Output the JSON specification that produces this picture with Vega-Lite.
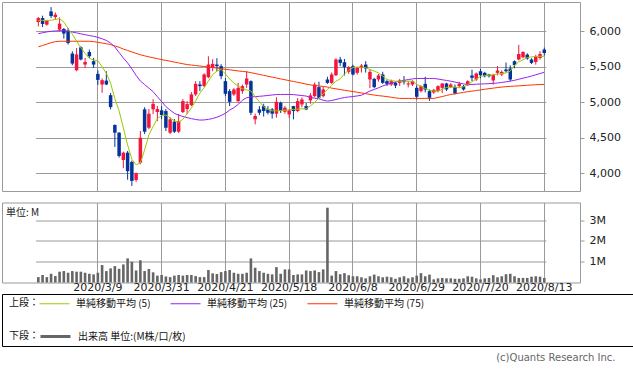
{
"$schema": "https://vega.github.io/schema/vega-lite/v6.json",
"padding": {"left": 1, "top": 1, "right": 1, "bottom": 1},
"background": "white",
"bounds": "flush",
"spacing": 11.5,
"title": {"text": "(c)Quants Research Inc.", "orient": "bottom", "anchor": "end", "frame": "bounds", "offset": 6, "baseline": "top", "dx": -18, "fontSize": 10, "fontWeight": "normal", "font": "DejaVu Sans", "color": "#666"},
"config": {
  "font": "DejaVu Sans",
  "axis": {"labelFont": "DejaVu Sans", "labelFontSize": 11, "labelColor": "#222", "gridColor": "#9a9a9a", "gridWidth": 1, "tickColor": "#9a9a9a"},
  "view": {"stroke": "#9a9a9a"},
  "legend": {"labelFont": "Noto Sans CJK JP", "labelFontSize": 10, "titleFont": "Noto Sans CJK JP", "titleFontSize": 10, "titleFontWeight": "normal", "labelColor": "#111", "titleColor": "#111", "padding": 0}
},
"datasets": {"p": [
{"d":"2020/2/17","o":6131,"h":6201,"l":6070,"c":6187,"v":0.26,"m5":6154,"m25":5967,"m75":5782},
{"d":"2020/2/18","o":6187,"h":6220,"l":6060,"c":6103,"v":0.36,"m5":6154,"m25":5980,"m75":5800},
{"d":"2020/2/19","o":6094,"h":6160,"l":6080,"c":6150,"v":0.26,"m5":6154,"m25":5992,"m75":5820},
{"d":"2020/2/20","o":6281,"h":6341,"l":6187,"c":6215,"v":0.42,"m5":6156,"m25":6000,"m75":5840},
{"d":"2020/2/21","o":6201,"h":6267,"l":6164,"c":6235,"v":0.31,"m5":6166,"m25":6005,"m75":5855},
{"d":"2020/2/25","o":6024,"h":6197,"l":6000,"c":6108,"v":0.52,"m5":6178,"m25":6008,"m75":5860},
{"d":"2020/2/26","o":6033,"h":6047,"l":5897,"c":5968,"v":0.55,"m5":6130,"m25":6010,"m75":5860},
{"d":"2020/2/27","o":6010,"h":6047,"l":5813,"c":5836,"v":0.47,"m5":6040,"m25":6000,"m75":5860},
{"d":"2020/2/28","o":5687,"h":5719,"l":5522,"c":5546,"v":0.55,"m5":5960,"m25":5990,"m75":5860},
{"d":"2020/3/2","o":5452,"h":5765,"l":5438,"c":5675,"v":0.52,"m5":5860,"m25":5978,"m75":5860},
{"d":"2020/3/3","o":5775,"h":5790,"l":5590,"c":5603,"v":0.52,"m5":5766,"m25":5965,"m75":5860},
{"d":"2020/3/4","o":5532,"h":5625,"l":5485,"c":5569,"v":0.47,"m5":5690,"m25":5952,"m75":5860},
{"d":"2020/3/5","o":5709,"h":5743,"l":5625,"c":5649,"v":0.42,"m5":5620,"m25":5940,"m75":5860},
{"d":"2020/3/6","o":5579,"h":5625,"l":5485,"c":5532,"v":0.39,"m5":5595,"m25":5930,"m75":5855},
{"d":"2020/3/9","o":5400,"h":5450,"l":5246,"c":5316,"v":0.47,"m5":5588,"m25":5915,"m75":5845},
{"d":"2020/3/10","o":5251,"h":5335,"l":5133,"c":5312,"v":0.84,"m5":5500,"m25":5895,"m75":5835},
{"d":"2020/3/11","o":5306,"h":5438,"l":5241,"c":5251,"v":0.55,"m5":5410,"m25":5872,"m75":5825},
{"d":"2020/3/12","o":5101,"h":5133,"l":4900,"c":4933,"v":0.68,"m5":5270,"m25":5835,"m75":5813},
{"d":"2020/3/13","o":4680,"h":4690,"l":4371,"c":4572,"v":0.79,"m5":5050,"m25":5780,"m75":5795},
{"d":"2020/3/16","o":4572,"h":4580,"l":4221,"c":4244,"v":0.66,"m5":4880,"m25":5700,"m75":5775},
{"d":"2020/3/17","o":4188,"h":4305,"l":4072,"c":4291,"v":0.87,"m5":4640,"m25":5625,"m75":5750},
{"d":"2020/3/18","o":4291,"h":4315,"l":3910,"c":4030,"v":1.16,"m5":4400,"m25":5555,"m75":5730},
{"d":"2020/3/19","o":4160,"h":4180,"l":3823,"c":3893,"v":1.0,"m5":4200,"m25":5470,"m75":5710},
{"d":"2020/3/23","o":3907,"h":4011,"l":3879,"c":4001,"v":0.58,"m5":4119,"m25":5380,"m75":5690},
{"d":"2020/3/24","o":4150,"h":4596,"l":4127,"c":4501,"v":1.07,"m5":4145,"m25":5300,"m75":5670},
{"d":"2020/3/25","o":4901,"h":4930,"l":4554,"c":4586,"v":0.55,"m5":4330,"m25":5250,"m75":5655},
{"d":"2020/3/26","o":4642,"h":4905,"l":4620,"c":4839,"v":0.65,"m5":4540,"m25":5200,"m75":5640},
{"d":"2020/3/27","o":4901,"h":5045,"l":4835,"c":4979,"v":0.49,"m5":4660,"m25":5150,"m75":5628},
{"d":"2020/3/30","o":4863,"h":4947,"l":4736,"c":4905,"v":0.33,"m5":4770,"m25":5080,"m75":5615},
{"d":"2020/3/31","o":4887,"h":4947,"l":4764,"c":4821,"v":0.36,"m5":4815,"m25":5010,"m75":5602},
{"d":"2020/4/1","o":4877,"h":4905,"l":4596,"c":4642,"v":0.29,"m5":4821,"m25":4940,"m75":5590},
{"d":"2020/4/2","o":4572,"h":4792,"l":4554,"c":4760,"v":0.26,"m5":4780,"m25":4890,"m75":5579},
{"d":"2020/4/3","o":4727,"h":4764,"l":4568,"c":4586,"v":0.33,"m5":4740,"m25":4845,"m75":5567},
{"d":"2020/4/6","o":4586,"h":4835,"l":4568,"c":4736,"v":0.36,"m5":4720,"m25":4820,"m75":5555},
{"d":"2020/4/7","o":4863,"h":5045,"l":4849,"c":5017,"v":0.33,"m5":4760,"m25":4800,"m75":5543},
{"d":"2020/4/8","o":4905,"h":5017,"l":4835,"c":4975,"v":0.36,"m5":4840,"m25":4785,"m75":5532},
{"d":"2020/4/9","o":4961,"h":5144,"l":4947,"c":5111,"v":0.36,"m5":4920,"m25":4770,"m75":5525},
{"d":"2020/4/10","o":5111,"h":5298,"l":5087,"c":5260,"v":0.31,"m5":5020,"m25":4758,"m75":5518},
{"d":"2020/4/13","o":5251,"h":5298,"l":5158,"c":5228,"v":0.26,"m5":5130,"m25":4750,"m75":5511},
{"d":"2020/4/14","o":5228,"h":5410,"l":5214,"c":5392,"v":0.26,"m5":5204,"m25":4752,"m75":5505},
{"d":"2020/4/15","o":5354,"h":5649,"l":5340,"c":5532,"v":0.6,"m5":5300,"m25":4760,"m75":5498},
{"d":"2020/4/16","o":5485,"h":5607,"l":5438,"c":5541,"v":0.44,"m5":5390,"m25":4772,"m75":5490},
{"d":"2020/4/17","o":5532,"h":5621,"l":5438,"c":5509,"v":0.41,"m5":5440,"m25":4790,"m75":5482},
{"d":"2020/4/20","o":5509,"h":5537,"l":5326,"c":5368,"v":0.5,"m5":5462,"m25":4815,"m75":5474},
{"d":"2020/4/21","o":5298,"h":5340,"l":5087,"c":5120,"v":0.55,"m5":5400,"m25":4845,"m75":5466},
{"d":"2020/4/22","o":5158,"h":5186,"l":4947,"c":5007,"v":0.6,"m5":5330,"m25":4890,"m75":5458},
{"d":"2020/4/23","o":5111,"h":5200,"l":5090,"c":5181,"v":0.47,"m5":5270,"m25":4925,"m75":5450},
{"d":"2020/4/24","o":5017,"h":5275,"l":5000,"c":5204,"v":0.42,"m5":5230,"m25":4970,"m75":5442},
{"d":"2020/4/27","o":5158,"h":5251,"l":5120,"c":5228,"v":0.42,"m5":5190,"m25":5030,"m75":5435},
{"d":"2020/4/28","o":5251,"h":5439,"l":5204,"c":5336,"v":0.47,"m5":5175,"m25":5065,"m75":5429},
{"d":"2020/4/30","o":5298,"h":5310,"l":4820,"c":4853,"v":1.16,"m5":5160,"m25":5075,"m75":5418},
{"d":"2020/5/1","o":4760,"h":4840,"l":4690,"c":4807,"v":0.71,"m5":5080,"m25":5080,"m75":5405},
{"d":"2020/5/7","o":4900,"h":4947,"l":4820,"c":4853,"v":0.55,"m5":5010,"m25":5085,"m75":5393},
{"d":"2020/5/8","o":4947,"h":4980,"l":4800,"c":4877,"v":0.47,"m5":4940,"m25":5090,"m75":5380},
{"d":"2020/5/11","o":4900,"h":4947,"l":4830,"c":4853,"v":0.42,"m5":4900,"m25":5097,"m75":5368},
{"d":"2020/5/12","o":4900,"h":4920,"l":4770,"c":4840,"v":0.39,"m5":4880,"m25":5103,"m75":5355},
{"d":"2020/5/13","o":4840,"h":5070,"l":4783,"c":5007,"v":0.74,"m5":4880,"m25":5110,"m75":5342},
{"d":"2020/5/14","o":4994,"h":5010,"l":4850,"c":4877,"v":0.42,"m5":4885,"m25":5111,"m75":5330},
{"d":"2020/5/15","o":4867,"h":4947,"l":4840,"c":4924,"v":0.63,"m5":4890,"m25":5111,"m75":5318},
{"d":"2020/5/18","o":4830,"h":4900,"l":4780,"c":4887,"v":0.63,"m5":4895,"m25":5111,"m75":5306},
{"d":"2020/5/19","o":4947,"h":4950,"l":4760,"c":4877,"v":0.36,"m5":4900,"m25":5108,"m75":5294},
{"d":"2020/5/20","o":4877,"h":5060,"l":4860,"c":5017,"v":0.39,"m5":4905,"m25":5102,"m75":5282},
{"d":"2020/5/21","o":4970,"h":5070,"l":4930,"c":5040,"v":0.39,"m5":4908,"m25":5095,"m75":5270},
{"d":"2020/5/22","o":4947,"h":4990,"l":4890,"c":4900,"v":0.58,"m5":4910,"m25":5088,"m75":5256},
{"d":"2020/5/25","o":5027,"h":5130,"l":4980,"c":5097,"v":0.55,"m5":4950,"m25":5070,"m75":5245},
{"d":"2020/5/26","o":5087,"h":5280,"l":5070,"c":5251,"v":0.58,"m5":5000,"m25":5058,"m75":5237},
{"d":"2020/5/27","o":5214,"h":5290,"l":5050,"c":5064,"v":0.5,"m5":5060,"m25":5050,"m75":5230},
{"d":"2020/5/28","o":5087,"h":5220,"l":5070,"c":5181,"v":0.63,"m5":5120,"m25":5030,"m75":5224},
{"d":"2020/5/29","o":5321,"h":5360,"l":5260,"c":5274,"v":3.6,"m5":5181,"m25":5017,"m75":5215},
{"d":"2020/6/1","o":5274,"h":5420,"l":5260,"c":5392,"v":0.33,"m5":5240,"m25":5025,"m75":5200},
{"d":"2020/6/2","o":5382,"h":5620,"l":5370,"c":5603,"v":0.55,"m5":5298,"m25":5040,"m75":5190},
{"d":"2020/6/3","o":5603,"h":5640,"l":5509,"c":5555,"v":0.4,"m5":5330,"m25":5055,"m75":5180},
{"d":"2020/6/4","o":5565,"h":5611,"l":5377,"c":5495,"v":0.45,"m5":5400,"m25":5068,"m75":5170},
{"d":"2020/6/5","o":5429,"h":5510,"l":5400,"c":5495,"v":0.35,"m5":5452,"m25":5075,"m75":5160},
{"d":"2020/6/8","o":5509,"h":5530,"l":5380,"c":5392,"v":0.3,"m5":5490,"m25":5082,"m75":5152},
{"d":"2020/6/9","o":5415,"h":5500,"l":5390,"c":5485,"v":0.3,"m5":5495,"m25":5090,"m75":5142},
{"d":"2020/6/10","o":5485,"h":5540,"l":5420,"c":5518,"v":0.25,"m5":5495,"m25":5100,"m75":5132},
{"d":"2020/6/11","o":5532,"h":5580,"l":5420,"c":5476,"v":0.2,"m5":5488,"m25":5130,"m75":5122},
{"d":"2020/6/12","o":5322,"h":5470,"l":5200,"c":5429,"v":0.3,"m5":5460,"m25":5160,"m75":5112},
{"d":"2020/6/15","o":5330,"h":5345,"l":5200,"c":5214,"v":0.38,"m5":5440,"m25":5181,"m75":5102},
{"d":"2020/6/16","o":5322,"h":5400,"l":5290,"c":5378,"v":0.3,"m5":5415,"m25":5205,"m75":5094},
{"d":"2020/6/17","o":5392,"h":5430,"l":5260,"c":5274,"v":0.25,"m5":5370,"m25":5230,"m75":5088},
{"d":"2020/6/18","o":5298,"h":5320,"l":5230,"c":5260,"v":0.28,"m5":5322,"m25":5251,"m75":5080},
{"d":"2020/6/19","o":5251,"h":5320,"l":5230,"c":5298,"v":0.25,"m5":5305,"m25":5268,"m75":5072},
{"d":"2020/6/22","o":5274,"h":5290,"l":5200,"c":5237,"v":0.18,"m5":5298,"m25":5285,"m75":5062},
{"d":"2020/6/23","o":5274,"h":5330,"l":5230,"c":5308,"v":0.25,"m5":5298,"m25":5298,"m75":5056},
{"d":"2020/6/24","o":5308,"h":5370,"l":5250,"c":5284,"v":0.3,"m5":5298,"m25":5310,"m75":5055},
{"d":"2020/6/25","o":5251,"h":5300,"l":5210,"c":5265,"v":0.2,"m5":5298,"m25":5320,"m75":5055},
{"d":"2020/6/26","o":5251,"h":5310,"l":5230,"c":5298,"v":0.25,"m5":5298,"m25":5330,"m75":5055},
{"d":"2020/6/29","o":5204,"h":5240,"l":5040,"c":5078,"v":0.33,"m5":5255,"m25":5336,"m75":5055},
{"d":"2020/6/30","o":5158,"h":5240,"l":5140,"c":5228,"v":0.45,"m5":5225,"m25":5336,"m75":5055},
{"d":"2020/7/1","o":5260,"h":5360,"l":5140,"c":5181,"v":0.3,"m5":5195,"m25":5336,"m75":5055},
{"d":"2020/7/2","o":5158,"h":5180,"l":5020,"c":5064,"v":0.38,"m5":5170,"m25":5336,"m75":5055},
{"d":"2020/7/3","o":5139,"h":5190,"l":5120,"c":5176,"v":0.15,"m5":5160,"m25":5336,"m75":5055},
{"d":"2020/7/6","o":5158,"h":5240,"l":5140,"c":5228,"v":0.2,"m5":5158,"m25":5328,"m75":5068},
{"d":"2020/7/7","o":5204,"h":5270,"l":5130,"c":5265,"v":0.22,"m5":5180,"m25":5318,"m75":5082},
{"d":"2020/7/8","o":5265,"h":5275,"l":5160,"c":5181,"v":0.2,"m5":5210,"m25":5308,"m75":5096},
{"d":"2020/7/9","o":5214,"h":5270,"l":5200,"c":5251,"v":0.2,"m5":5214,"m25":5298,"m75":5111},
{"d":"2020/7/10","o":5218,"h":5250,"l":5110,"c":5125,"v":0.18,"m5":5214,"m25":5285,"m75":5120},
{"d":"2020/7/13","o":5228,"h":5290,"l":5200,"c":5260,"v":0.18,"m5":5205,"m25":5272,"m75":5130},
{"d":"2020/7/14","o":5228,"h":5245,"l":5165,"c":5181,"v":0.2,"m5":5220,"m25":5260,"m75":5140},
{"d":"2020/7/15","o":5242,"h":5310,"l":5230,"c":5298,"v":0.3,"m5":5250,"m25":5251,"m75":5150},
{"d":"2020/7/16","o":5378,"h":5460,"l":5300,"c":5345,"v":0.28,"m5":5290,"m25":5252,"m75":5158},
{"d":"2020/7/17","o":5322,"h":5420,"l":5300,"c":5406,"v":0.2,"m5":5330,"m25":5255,"m75":5166},
{"d":"2020/7/20","o":5438,"h":5470,"l":5340,"c":5382,"v":0.15,"m5":5366,"m25":5258,"m75":5175},
{"d":"2020/7/21","o":5415,"h":5430,"l":5350,"c":5368,"v":0.2,"m5":5375,"m25":5260,"m75":5184},
{"d":"2020/7/22","o":5392,"h":5400,"l":5350,"c":5368,"v":0.22,"m5":5382,"m25":5263,"m75":5192},
{"d":"2020/7/27","o":5308,"h":5400,"l":5250,"c":5382,"v":0.35,"m5":5390,"m25":5267,"m75":5200},
{"d":"2020/7/28","o":5415,"h":5510,"l":5380,"c":5448,"v":0.25,"m5":5398,"m25":5272,"m75":5208},
{"d":"2020/7/29","o":5392,"h":5450,"l":5370,"c":5429,"v":0.3,"m5":5405,"m25":5280,"m75":5215},
{"d":"2020/7/30","o":5462,"h":5560,"l":5420,"c":5438,"v":0.4,"m5":5415,"m25":5288,"m75":5220},
{"d":"2020/7/31","o":5476,"h":5520,"l":5300,"c":5322,"v":0.42,"m5":5440,"m25":5298,"m75":5225},
{"d":"2020/8/3","o":5579,"h":5590,"l":5480,"c":5523,"v":0.3,"m5":5520,"m25":5310,"m75":5228},
{"d":"2020/8/4","o":5603,"h":5810,"l":5590,"c":5681,"v":0.22,"m5":5570,"m25":5325,"m75":5232},
{"d":"2020/8/5","o":5635,"h":5720,"l":5620,"c":5709,"v":0.22,"m5":5600,"m25":5340,"m75":5236},
{"d":"2020/8/6","o":5672,"h":5690,"l":5600,"c":5617,"v":0.22,"m5":5630,"m25":5354,"m75":5240},
{"d":"2020/8/7","o":5603,"h":5620,"l":5540,"c":5555,"v":0.28,"m5":5640,"m25":5370,"m75":5244},
{"d":"2020/8/11","o":5569,"h":5670,"l":5530,"c":5649,"v":0.3,"m5":5645,"m25":5388,"m75":5248},
{"d":"2020/8/12","o":5625,"h":5720,"l":5600,"c":5681,"v":0.28,"m5":5648,"m25":5405,"m75":5250},
{"d":"2020/8/13","o":5743,"h":5770,"l":5660,"c":5695,"v":0.22,"m5":5649,"m25":5424,"m75":5252}
]},
"vconcat": [
  {
    "width": 578, "height": 189,
    "data": {"name": "p"},
    "encoding": {
      "x": {"field": "d", "type": "ordinal", "sort": null,
            "scale": {"type": "band", "paddingInner": 0, "paddingOuter": 0, "range": [34.2, 544.4]},
            "axis": {"values": ["2020/3/9","2020/3/31","2020/4/21","2020/5/18","2020/6/8","2020/6/29","2020/7/20","2020/8/13"], "labels": false, "ticks": false, "domain": false, "grid": true, "bandPosition": 0.5, "title": null}}
    },
    "layer": [
      {"mark": {"type": "rule", "strokeWidth": 1},
       "encoding": {
         "y": {"field": "l", "type": "quantitative", "scale": {"domain": [3751, 6413], "nice": false, "zero": false},
               "axis": {"orient": "right", "values": [4000,4500,5000,5500,6000], "labelExpr": "format(datum.value, ',')", "grid": true, "tickSize": 4, "labelPadding": 5, "domain": false, "title": null}},
         "y2": {"field": "h"},
         "color": {"condition": {"test": "datum.c >= datum.o", "value": "#f5143c"}, "value": "#06339a"}
       }},
      {"mark": {"type": "bar", "width": 3.5},
       "encoding": {
         "y": {"field": "o", "type": "quantitative"},
         "y2": {"field": "c"},
         "color": {"condition": {"test": "datum.c >= datum.o", "value": "#f5143c"}, "value": "#06339a"}
       }},
      {"mark": {"type": "line", "color": "#ff3300", "strokeWidth": 1}, "encoding": {"y": {"field": "m75", "type": "quantitative"}}},
      {"mark": {"type": "line", "color": "#9922ee", "strokeWidth": 1}, "encoding": {"y": {"field": "m25", "type": "quantitative"}}},
      {"mark": {"type": "line", "color": "#99cc00", "strokeWidth": 1}, "encoding": {"y": {"field": "m5", "type": "quantitative"}}}
    ]
  },
  {
    "width": 578, "height": 80,
    "data": {"name": "p"},
    "title": {"text": "単位: M", "anchor": "start", "orient": "top", "frame": "group", "baseline": "top", "offset": -10, "dx": 4, "dy": 5, "fontSize": 10, "fontWeight": "normal", "font": "Noto Sans CJK JP", "color": "#222"},
    "mark": {"type": "bar", "width": 2.6, "color": "#666666"},
    "encoding": {
      "x": {"field": "d", "type": "ordinal", "sort": null,
            "scale": {"type": "band", "paddingInner": 0, "paddingOuter": 0, "range": [34.2, 544.4]},
            "axis": {"values": ["2020/3/9","2020/3/31","2020/4/21","2020/5/18","2020/6/8","2020/6/29","2020/7/20","2020/8/13"], "grid": true, "ticks": false, "domain": false, "bandPosition": 0.5, "labelAngle": 0, "labelPadding": -1, "labelOverlap": false, "title": null}},
      "y": {"field": "v", "type": "quantitative", "scale": {"domain": [0, 3.85], "nice": false},
            "axis": {"orient": "right", "values": [1,2,3], "labelExpr": "datum.value + 'M'", "grid": true, "tickSize": 4, "labelPadding": 5, "domain": false, "title": null}}
    }
  },
  {
    "width": 631, "height": 52,
    "view": {"stroke": "#000000", "strokeWidth": 1},
    "layer": [
      {"data": {"values": [{"s": "単純移動平均 (5)"}, {"s": "単純移動平均 (25)"}, {"s": "単純移動平均 (75)"}]},
       "transform": [{"filter": "false"}],
       "mark": {"type": "line", "strokeWidth": 1},
       "encoding": {
         "color": {"field": "s", "type": "nominal",
                   "scale": {"domain": ["単純移動平均 (5)", "単純移動平均 (25)", "単純移動平均 (75)"], "range": ["#99cc00", "#9922ee", "#ff3300"]},
                   "legend": {"title": "上段：", "orient": "none", "legendX": 7, "legendY": -6, "direction": "horizontal", "titleOrient": "left", "titleAnchor": "middle", "titleBaseline": "top", "titlePadding": 0, "symbolType": "stroke", "symbolSize": 900, "symbolStrokeWidth": 1, "labelOffset": 6, "columnPadding": 17}}
       }},
      {"data": {"values": [{"s": "出来高 単位:(M株/口/枚)"}]},
       "transform": [{"filter": "false"}],
       "mark": {"type": "line", "strokeWidth": 3},
       "encoding": {
         "color": {"field": "s", "type": "nominal",
                   "scale": {"domain": ["出来高 単位:(M株/口/枚)"], "range": ["#666666"]},
                   "legend": {"title": "下段：", "orient": "none", "legendX": 7, "legendY": 26, "direction": "horizontal", "titleOrient": "left", "titleAnchor": "middle", "titleBaseline": "top", "titlePadding": 0, "symbolType": "stroke", "symbolSize": 900, "symbolStrokeWidth": 3, "labelOffset": 6}}
       }}
    ],
    "resolve": {"scale": {"color": "independent"}, "legend": {"color": "independent"}}
  }
]
}
